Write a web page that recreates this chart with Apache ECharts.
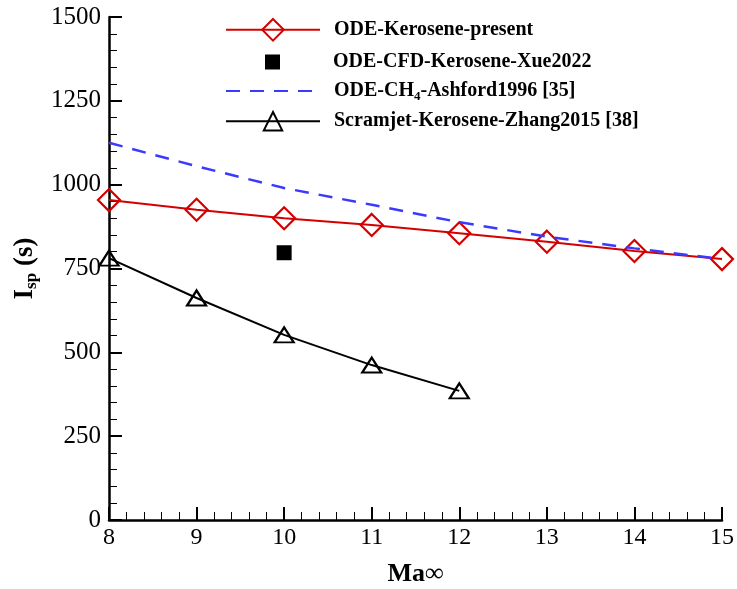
<!DOCTYPE html>
<html>
<head>
<meta charset="utf-8">
<script src="https://cdn.jsdelivr.net/npm/echarts@6/dist/echarts.min.js"></script>
<style>html,body{margin:0;padding:0;background:#fff}#c{width:737px;height:589px}</style>
</head>
<body>
<div id="c"></div>
<script>
const mach = [8, 9, 10, 11, 12, 13, 14, 15];
const odePresent = [954, 925, 900, 880, 855, 830, 802, 778];
const cfdMach = [10];
const cfdXue = [797];
const ashford = [1125, 1055, 990, 940, 888, 845, 810, 778];
const scramMach = [8, 9, 10, 11, 12];
const scramZhang = [781, 662, 552, 462, 385];
const names = ['ODE-Kerosene-present', 'ODE-CFD-Kerosene-Xue2022', 'ODE-CH4-Ashford1996 [35]', 'Scramjet-Kerosene-Zhang2015 [38]'];

const serif = '"Liberation Serif", "Times New Roman", serif';
const pair = (xs, ys) => xs.map((x, i) => [x, ys[i]]);

const legendText = {
  fontFamily: serif, fontWeight: 'bold', fontSize: 20, color: '#000', padding: [0, 0, 0, 9],
  rich: {
    n: {fontFamily: serif, fontWeight: 'bold', fontSize: 20, color: '#000'},
    s: {fontFamily: serif, fontWeight: 'bold', fontSize: 13, color: '#000', padding: [12, 0, 0, 0]}
  }
};
const fmt = n => n === names[2] ? '{n|ODE-CH}{s|4}{n|-Ashford1996 [35]}' : n;
function mkLegend(item, top, ih, iw, extra) {
  return Object.assign({
    data: [item], left: 225, top: top, orient: 'vertical', itemWidth: iw, itemHeight: ih,
    selectedMode: false, textStyle: legendText, formatter: fmt, padding: 0
  }, extra || {});
}

const chart = echarts.init(document.getElementById('c'), null, {renderer: 'canvas'});
chart.setOption({
  animation: false,
  grid: {left: 109, right: 15, top: 17, bottom: 69, containLabel: false, outerBoundsMode: 'none'},
  legend: [
    mkLegend(names[0], 18, 27, 94),
    mkLegend(names[1], 52, 15, 94, {icon: 'path://M0,0M94,15M40,0H55V15H40Z'}),
    mkLegend({name: names[2], itemStyle: {opacity: 0}}, 81, 22, 94),
    mkLegend(names[3], 111, 23, 94)
  ],
  xAxis: {
    type: 'value', min: 8, max: 15, interval: 1,
    name: 'Ma∞', nameLocation: 'middle', nameGap: 41,
    nameTextStyle: {fontFamily: serif, fontWeight: 'bold', fontSize: 26, color: '#000'},
    axisLine: {lineStyle: {color: '#000', width: 2.5}},
    axisTick: {inside: true, length: 13, lineStyle: {color: '#000', width: 2}},
    minorTick: {show: true, splitNumber: 5, length: 8, lineStyle: {color: '#000', width: 1}},
    axisLabel: {fontFamily: serif, fontSize: 24, color: '#000', margin: 6},
    splitLine: {show: false}
  },
  yAxis: {
    type: 'value', min: 0, max: 1500, interval: 250,
    name: '{b|I}{s|sp}{b| (s)}', nameLocation: 'middle', nameGap: 57, nameRotate: 90,
    nameTextStyle: {
      rich: {
        b: {fontFamily: serif, fontWeight: 'bold', fontSize: 27, color: '#000'},
        s: {fontFamily: serif, fontWeight: 'bold', fontSize: 17, color: '#000', padding: [14, 0, 0, 0]}
      }
    },
    axisLine: {show: true, lineStyle: {color: '#000', width: 2.5}},
    axisTick: {show: true, inside: true, length: 13, lineStyle: {color: '#000', width: 2}},
    minorTick: {show: true, splitNumber: 5, length: 8, lineStyle: {color: '#000', width: 1}},
    axisLabel: {fontFamily: serif, fontSize: 25, color: '#000', margin: 8, formatter: v => String(v)},
    splitLine: {show: false}
  },
  series: [
    {
      name: names[2], type: 'line', data: pair(mach, ashford), symbol: 'none', z: 3,
      lineStyle: {color: '#3a3aff', width: 2.5, type: [14, 10]}, itemStyle: {color: '#3a3aff'}
    },
    {
      name: names[0], type: 'line', data: pair(mach, odePresent), symbol: 'diamond', symbolSize: 22, z: 2,
      lineStyle: {color: '#d40000', width: 2},
      itemStyle: {color: 'rgba(255,255,255,0)', borderColor: '#d40000', borderWidth: 2.2}
    },
    {
      name: names[1], type: 'scatter', data: pair(cfdMach, cfdXue), symbol: 'rect', symbolSize: 15,
      itemStyle: {color: '#000', opacity: 1}
    },
    {
      name: names[3], type: 'line', data: pair(scramMach, scramZhang), symbol: 'triangle', symbolSize: [19, 15],
      lineStyle: {color: '#000', width: 2},
      itemStyle: {color: 'rgba(255,255,255,0)', borderColor: '#000', borderWidth: 2.2}
    }
  ]
});
</script>
</body>
</html>
